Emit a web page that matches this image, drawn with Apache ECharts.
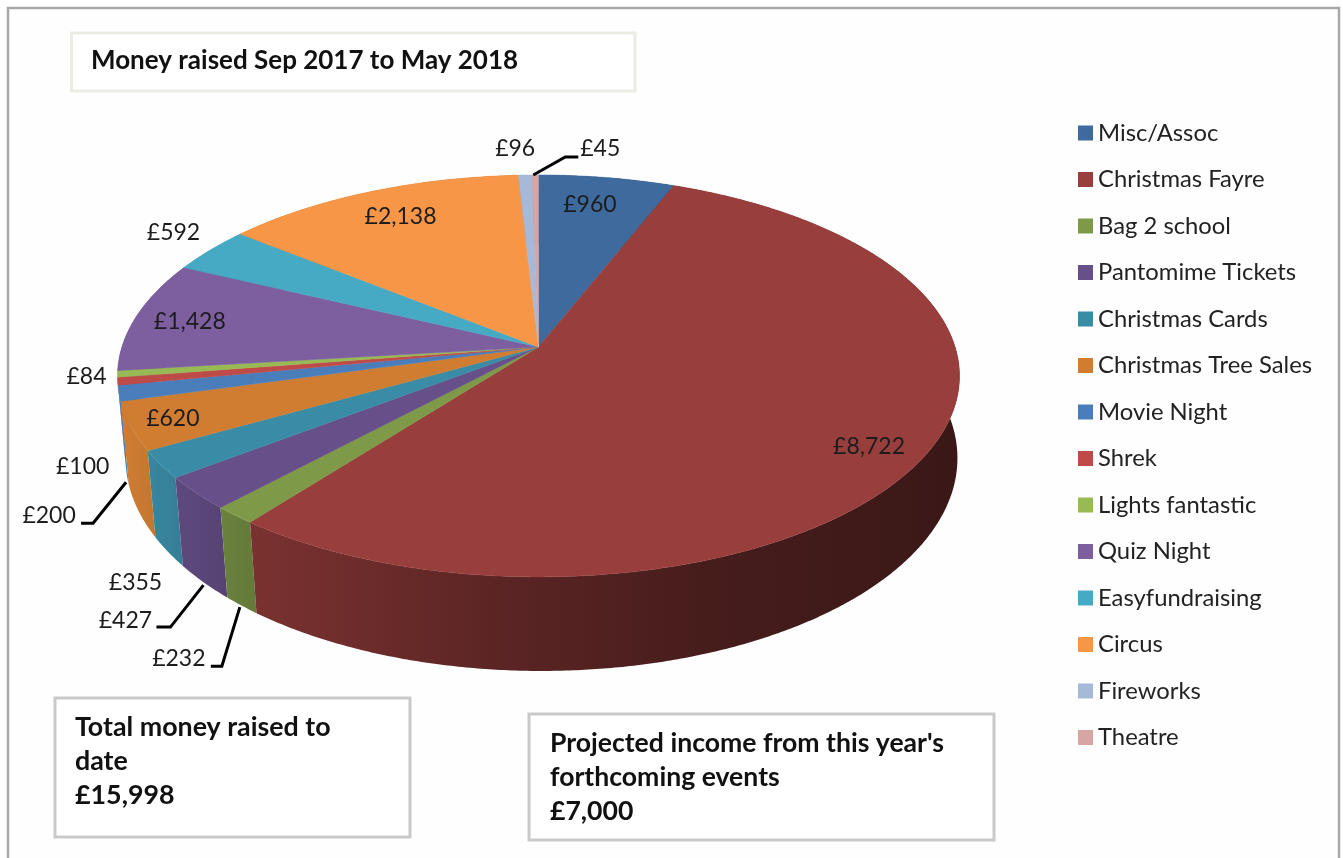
<!DOCTYPE html>
<html>
<head>
<meta charset="utf-8">
<script src="https://cdn.jsdelivr.net/npm/echarts@6/dist/echarts.min.js"></script>
<style>html,body{margin:0;padding:0;background:#fff}#c{width:1343px;height:858px}</style>
</head>
<body>
<div id="c"></div>
<script>
var categories = ['Misc/Assoc','Christmas Fayre','Bag 2 school','Pantomime Tickets','Christmas Cards','Christmas Tree Sales','Movie Night','Shrek','Lights fantastic','Quiz Night','Easyfundraising','Circus','Fireworks','Theatre'];
var values = [960,8722,232,427,355,620,200,100,84,1428,592,2138,96,45];
var colors = ['#3E6A9E','#983E3C','#7E9A48','#67508A','#3A8CA6','#D07D32','#4A7EBB','#BE4B48','#98BA55','#7D5FA0','#46AAC4','#F79646','#A6B9D8','#D7A5A4'];

// label placement, relative to the slice's rim midpoint
var labelOffsets = [[-17,27],[-59,-6],[-56,143],[-71,127],[-25,118],[42,-8],[-70,122],[-35,85],[-31,3],[53,6],[-37,-17],[31,25],[-10,-26],[65,-26]];
// leader lines, relative to the same rim midpoint
var leaders = {2:[[5,92],[-13,151],[-24,151]],3:[[7,92],[-26,134],[-40,134]],6:[[7,89],[-26,130],[-38,130]],13:[[-2,0],[30,-18],[43,-18]]};

var total = values.reduce(function(a,b){return a+b;},0);
var CX=538.5, CY=347, R=416.6, B=196.8, K=0.144, DEPTH=80.5, LOWER=0.988, LOWSHIFT=3;
var FONT='Lato';

function topPoint(a){
  var u=Math.sin(a), v=-Math.cos(a), w=1-K*v;
  return [CX+R*u/w, CY+B*v/w];
}
function lowPoint(a){
  var u=Math.sin(a), v=-Math.cos(a), w=1-K*v;
  return [CX+LOWSHIFT+LOWER*R*u/w, CY+B*v/w+DEPTH/w];
}
function arc(fn,a0,a1){
  var n=Math.max(2,Math.ceil((a1-a0)/0.008)), pts=[];
  for(var i=0;i<=n;i++) pts.push(fn(a0+(a1-a0)*i/n));
  return pts;
}
function shade(hex,s){
  var n=parseInt(hex.slice(1),16);
  return 'rgb('+[(n>>16)&255,(n>>8)&255,n&255].map(function(c){return Math.round(c*s);}).join(',')+')';
}
var wallShade=[[120,1.0],[250,0.8],[500,0.6],[700,0.47],[960,0.38]];

function renderSlice(params,api){
  var idx=params.seriesIndex, val=api.value(0), before=0;
  for(var i=0;i<idx;i++) before+=values[i];
  var a0=before/total*2*Math.PI, a1=(before+val)/total*2*Math.PI, mid=(a0+a1)/2;
  var c=colors[idx], rim=topPoint(mid), children=[];
  var top=arc(topPoint,a0,a1), low=arc(lowPoint,a0,a1).reverse();
  children.push({type:'polygon',z2:1-idx*0.01,shape:{points:top.concat(low)},style:{
    fill:{type:'linear',global:true,x:120,y:0,x2:960,y2:0,colorStops:wallShade.map(function(s){
      return {offset:(s[0]-120)/840,color:shade(c,s[1])};
    })}
  }});
  children.push({type:'polygon',z2:2,shape:{points:[[CX,CY]].concat(top)},style:{fill:c,stroke:c,lineWidth:0.5}});
  var off=labelOffsets[idx];
  children.push({type:'text',z2:4,x:rim[0]+off[0],y:rim[1]+off[1],style:{
    text:'£'+val.toLocaleString('en-GB'),fill:'#1c1c1c',font:'23px '+FONT,align:'center',verticalAlign:'middle'
  }});
  if(leaders[idx]){
    children.push({type:'polyline',z2:3,shape:{points:leaders[idx].map(function(p){return [rim[0]+p[0],rim[1]+p[1]];})},
      style:{fill:'none',stroke:'#000',lineWidth:3}});
  }
  return {type:'group',children:children};
}

var boxes=[
  {x:71.5,y:33,w:563.5,h:58,stroke:'#ecece4'},
  {x:55,y:698,w:355,h:139,stroke:'#c9c9c9'},
  {x:529,y:714,w:465,h:126,stroke:'#c9c9c9'}
];
var boxTexts=[
  {x:91,y:61,size:26,lines:['Money raised Sep 2017 to May 2018']},
  {x:75,y:727,size:26.8,lines:['Total money raised to','date','£15,998']},
  {x:550,y:743,size:26.6,lines:['Projected income from this year\'s','forthcoming events','£7,000']}
];
var graphics=[{type:'rect',z:0,shape:{x:8,y:8,width:1331,height:900},style:{fill:'#fefefe',stroke:'#a8a8a8',lineWidth:2.5}}];
boxes.forEach(function(b){graphics.push({type:'rect',z:1,shape:{x:b.x,y:b.y,width:b.w,height:b.h},style:{fill:'#fff',stroke:b.stroke,lineWidth:3}});});
boxTexts.forEach(function(t){t.lines.forEach(function(l,i){
  graphics.push({type:'text',z:2,x:t.x,y:t.y+i*34,style:{text:l,fill:'#111',font:'bold '+t.size+'px '+FONT,textAlign:'left',textVerticalAlign:'middle'}});
});});

var chart=echarts.init(document.getElementById('c'),null,{renderer:'canvas'});
chart.setOption({
  animation:false,
  backgroundColor:'#fff',
  graphic:graphics,
  legend:{
    orient:'vertical',left:1073,top:116,itemWidth:15,itemHeight:15,itemGap:22.5,icon:'rect',
    data:categories,selectedMode:false,
    textStyle:{fontFamily:FONT,fontSize:23.8,color:'#222',lineHeight:24}
  },
  series:categories.map(function(name,i){
    return {type:'custom',name:name,coordinateSystem:'none',silent:true,z:5,
      itemStyle:{color:colors[i]},data:[[values[i]]],renderItem:renderSlice};
  })
});
</script>
</body>
</html>
